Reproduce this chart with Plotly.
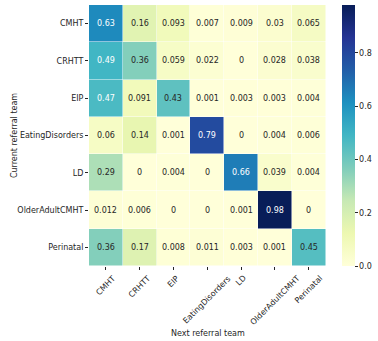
import plotly.graph_objects as go

# Data
teams = ['CMHT', 'CRHTT', 'EIP', 'EatingDisorders', 'LD', 'OlderAdultCMHT', 'Perinatal']
row_cmht = [0.63, 0.16, 0.093, 0.007, 0.009, 0.03, 0.065]
row_crhtt = [0.49, 0.36, 0.059, 0.022, 0, 0.028, 0.038]
row_eip = [0.47, 0.091, 0.43, 0.001, 0.003, 0.003, 0.004]
row_eating = [0.06, 0.14, 0.001, 0.79, 0, 0.004, 0.006]
row_ld = [0.29, 0, 0.004, 0, 0.66, 0.039, 0.004]
row_older = [0.012, 0.006, 0, 0, 0.001, 0.98, 0]
row_perinatal = [0.36, 0.17, 0.008, 0.011, 0.003, 0.001, 0.45]
z = [row_cmht, row_crhtt, row_eip, row_eating, row_ld, row_older, row_perinatal]

# YlGnBu (colorbrewer)
ylgnbu = ['#ffffd9', '#edf8b1', '#c7e9b4', '#7fcdbb', '#41b6c4',
          '#1d91c0', '#225ea8', '#253494', '#081d58']
zmax = max(max(r) for r in z)
scale = [[i / (len(ylgnbu) - 1), c] for i, c in enumerate(ylgnbu)]


def colour_at(v):
    t = v / zmax * (len(ylgnbu) - 1)
    i = min(int(t), len(ylgnbu) - 2)
    f = t - i
    a = [int(ylgnbu[i][k:k + 2], 16) for k in (1, 3, 5)]
    b = [int(ylgnbu[i + 1][k:k + 2], 16) for k in (1, 3, 5)]
    return [(a[j] + (b[j] - a[j]) * f) / 255 for j in range(3)]


def luminance(rgb):
    lin = [c / 12.92 if c <= 0.03928 else ((c + 0.055) / 1.055) ** 2.4 for c in rgb]
    return 0.2126 * lin[0] + 0.7152 * lin[1] + 0.0722 * lin[2]


font = 'DejaVu Sans'
fs = 8
txt = '#262626'
fig = go.Figure(go.Heatmap(
    z=z, x=teams, y=teams, colorscale=scale, zmin=0, zmax=zmax,
    xgap=0.5, ygap=0.5,
    colorbar=dict(x=1.063, xanchor='left', xpad=0, y=0.5, ypad=0, len=1, thickness=13,
                  outlinewidth=0, ticks='outside', ticklen=3, tickcolor=txt,
                  tickvals=[0, 0.2, 0.4, 0.6, 0.8], ticktext=['0.0', '0.2', '0.4', '0.6', '0.8'],
                  tickfont=dict(size=fs, color=txt, family=font)),
    hoverinfo='skip'))

annotations = []
for i, row in enumerate(z):
    for j, v in enumerate(row):
        col = 'white' if luminance(colour_at(v)) < 0.408 else txt
        annotations.append(dict(x=teams[j], y=teams[i], text=f'{v:.2g}' if v else '0',
                                showarrow=False, font=dict(size=fs, color=col, family=font)))

# rotated x labels, centred under each tick like matplotlib
for t in teams:
    annotations.append(dict(x=t, y=-0.019, xref='x', yref='paper', text=t, textangle=-45,
                            xanchor='center', yanchor='top', showarrow=False,
                            font=dict(size=fs, color=txt, family=font)))

# axis titles
annotations.append(dict(text='Next referral team', xref='paper', yref='paper', x=0.5, y=-0.257,
                        yanchor='middle', showarrow=False, font=dict(size=fs, color=txt, family=font)))
annotations.append(dict(text='Current referral team', xref='paper', yref='paper', x=-0.34, y=0.5,
                        textangle=-90, showarrow=False, font=dict(size=fs, color=txt, family=font)))

fig.update_layout(
    width=378, height=341,
    margin=dict(l=89, r=51, t=5, b=75, autoexpand=False),
    plot_bgcolor='white', paper_bgcolor='white',
    font=dict(family=font, size=fs, color=txt),
    annotations=annotations,
    xaxis=dict(ticks='outside', ticklen=3, tickcolor=txt, showticklabels=False, showgrid=False,
               zeroline=False, automargin=False),
    yaxis=dict(autorange='reversed', ticks='outside', ticklen=3, tickcolor=txt, showgrid=False,
               zeroline=False, tickfont=dict(size=fs), automargin=False),
)

fig.write_html('out.html', config={'displayModeBar': False},
               post_script="document.body.style.margin='0';")
